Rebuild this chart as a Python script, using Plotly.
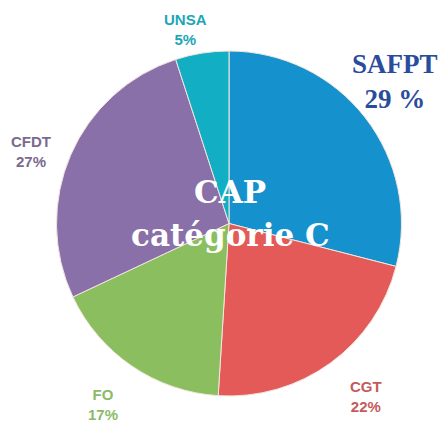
import plotly.graph_objects as go

labels = ["SAFPT", "CGT", "FO", "CFDT", "UNSA"]
values = [29, 22, 17, 27, 5]
colors = ["#1592CD", "#E45A58", "#8BBE5E", "#8A70A8", "#12AEC3"]
label_colors = ["#2A4C9C", "#C55A5A", "#8CBA68", "#7A6A8E", "#1BA6B6"]
# label positions (pixels) for outside labels
label_pos = {"SAFPT": (395, 81), "CGT": (366, 396), "FO": (103, 404), "CFDT": (31, 151), "UNSA": (185, 29)}

W, H = 442, 424
fig = go.Figure(go.Pie(
    labels=labels, values=values, sort=False, direction="clockwise", rotation=0,
    marker=dict(colors=colors, line=dict(color="#F3E6DF", width=1)),
    textinfo="none", hoverinfo="label+percent", showlegend=False,
    domain=dict(x=[56 / W, 402 / W], y=[1 - 396 / H, 1 - 51 / H]),
))

for lab, val, col in zip(labels, values, label_colors):
    px, py = label_pos[lab]
    if lab == "SAFPT":
        font = dict(family="Liberation Serif", size=27, color=col)
        txt = f"<b>{lab}</b><br><b>{val} %</b>"
    else:
        txt = f"<b>{lab}</b><br><b>{val}%</b>"
        font = dict(family="Liberation Sans", size=15, color=col)
    fig.add_annotation(x=px / W, y=1 - py / H, xref="paper", yref="paper", text=txt,
                       showarrow=False, font=font, xanchor="center", yanchor="middle", align="center")

fig.add_annotation(x=230 / W, y=1 - 192 / H, xref="paper", yref="paper", text="<b>CAP</b>",
                   showarrow=False, font=dict(family="DejaVu Serif", size=31, color="white"),
                   xanchor="center", yanchor="middle")
fig.add_annotation(x=230 / W, y=1 - 235 / H, xref="paper", yref="paper", text="<b>catégorie C</b>",
                   showarrow=False, font=dict(family="DejaVu Serif", size=31, color="white"),
                   xanchor="center", yanchor="middle")

fig.update_layout(width=W, height=H, margin=dict(l=0, r=0, t=0, b=0),
                  paper_bgcolor="white", plot_bgcolor="white")
fig.write_html("out.html", config={"displayModeBar": False},
               post_script="document.body.style.margin='0';")
